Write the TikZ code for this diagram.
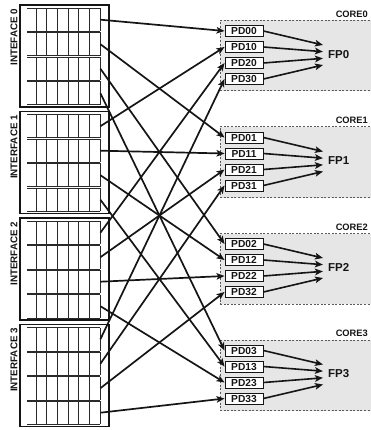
\documentclass[tikz,border=0pt]{standalone}
\usepackage{fontspec}
\setmainfont{Liberation Sans}
\usetikzlibrary{arrows.meta}
\definecolor{ink}{HTML}{151515}
\definecolor{qink}{HTML}{2A2A2A}
\definecolor{corefill}{HTML}{E6E6E6}
\definecolor{dashc}{HTML}{5A5A5A}
\begin{document}
\begin{tikzpicture}[x=1pt,y=-1pt,
  ifbox/.style={draw=ink, line width=1.9pt},
  qline/.style={draw=qink, line width=0.8pt},
  qrow/.style={minimum width=73pt, minimum height=23pt, inner sep=0pt, anchor=north west},
  iflabel/.style={rotate=90, anchor=base east, inner sep=0pt, font=\bfseries\fontsize{9.8}{10}\selectfont, text=ink},
  corebox/.style={fill=corefill, draw=dashc, dash pattern=on 2pt off 1.6pt, line width=1pt, minimum width=153pt, minimum height=70.5pt, inner sep=0pt, anchor=north west},
  corelabel/.style={anchor=base east, inner sep=0pt, font=\bfseries\fontsize{9.3}{10}\selectfont, text=ink},
  pdbox/.style={draw=ink, fill=white, line width=0.9pt, minimum width=38pt, minimum height=11pt, inner sep=0pt, font=\bfseries\fontsize{10.2}{10}\selectfont, text=ink},
  fplabel/.style={inner sep=0pt, anchor=west, font=\bfseries\fontsize{11.5}{12}\selectfont, text=ink},
  conn/.style={draw=ink, line width=1.7pt, -{Stealth[length=8pt,width=6.5pt,inset=1.8pt]}},
  fpconn/.style={draw=ink, line width=1.6pt, -{Stealth[length=8pt,width=6.5pt,inset=1.8pt]}}
]
\useasboundingbox (0,0) rectangle (371,430);

% cores
\foreach \j in {0,...,3}{
  \pgfmathsetmacro\ct{20+106.5*\j}
  \node[corebox] (core\j) at (219.5,\ct) {};
  \node[corelabel] (cl\j) at (368,\ct-2.8) {CORE\j};
  \node[fplabel] (fp\j) at (328,\ct+34.5) {FP\j};
  \foreach \i in {0,...,3}{
    \node[pdbox] (pd\i\j) at (244,\ct+11+16*\i) {PD\i\j};
    \coordinate (fin\i\j) at (323,\ct+25+6.67*\i);
    \draw[fpconn] (pd\i\j.east) -- (fin\i\j);
  }
}

% interfaces
\foreach \i/\name in {0/INTEFACE 0, 1/INTERFACE 1, 2/INTERFACE 2, 3/INTERFACE 3}{
  \pgfmathsetmacro\tp{5+106.5*\i}
  \draw[ifbox] (20,\tp) rectangle (109,\tp+102);
  \node[iflabel] (lab\i) at (17.3,\tp+3.5) {\name};
  \foreach \j in {0,...,3}{
    \node[qrow] (q\i\j) at (27,\tp+3+24.5*\j) {};
    \draw[qline] (q\i\j.north west) -- (q\i\j.north east)
                 (q\i\j.south west) -- (q\i\j.south east);
    \foreach \k in {0,...,6}{
      \draw[qline] ([xshift={9+\k*10.667}]q\i\j.north west) -- ([xshift={9+\k*10.667}]q\i\j.south west);
    }
  }
}

% connectors
\foreach \i in {0,...,3}{
  \foreach \j in {0,...,3}{
    \draw[conn] (q\i\j.east) -- (pd\i\j.west);
  }
}
\end{tikzpicture}
\end{document}
